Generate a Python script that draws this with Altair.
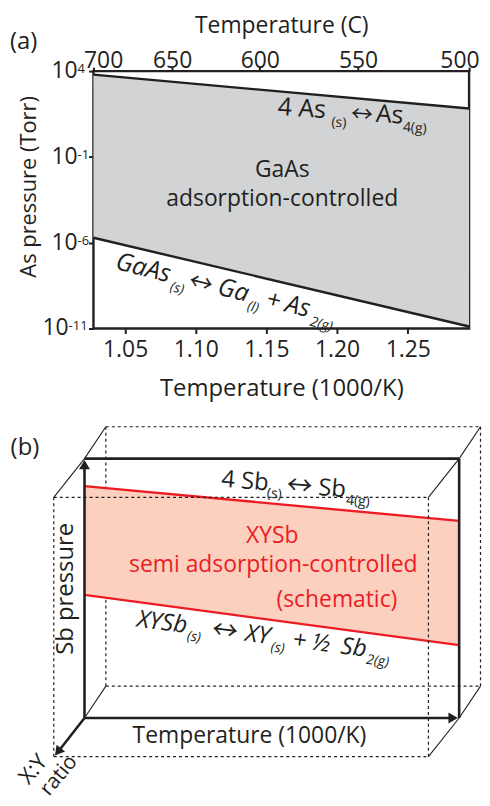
import altair as alt
import pandas as pd

FONT = "Open Sans"
ARROW_FONT = "Noto Sans CJK JP"
INK = "#231f20"
GRAY = "#d1d3d4"
RED = "#ed1c24"
PINK = "#fbd0bf"

# ---------------- panel (a) values ----------------
temp_c_ticks = [700, 650, 600, 550, 500]
inv_t_ticks = [1.05, 1.10, 1.15, 1.20, 1.25]
p_ticks = [1e4, 1e-1, 1e-6, 1e-11]
p_tick_exp = ["4", "-1", "-6", "-11"]
inv_t_ends = [1000.0 / (700 + 273.15), 1000.0 / (500 + 273.15)]
p_as4 = [6.2e3, 6.6e1]        # 4 As(s) <-> As4(g) boundary (Torr)
p_as2 = [1.95e-6, 1.3e-11]    # GaAs(s) <-> Ga(l) + As2(g) boundary (Torr)

# ---------------- panel (b) schematic values (unit box) ----------------
red_u = [0.0, 1.0]
red_upper_v = [0.894, 0.760]
red_lower_v = [0.475, 0.281]
back_du, back_dv = 0.057, 0.123
front_du, front_dv = -0.082, -0.149

WA, HA = 378, 259
WB, HB = 378, 430

xs = alt.Scale(domain=inv_t_ends, nice=False, zero=False)
ys = alt.Scale(type="log", domain=[1e-11, 1e4], nice=False)
top_vals = [1000.0 / (t + 273.15) for t in temp_c_ticks]

df_a = pd.DataFrame({"invT": inv_t_ends, "as4": p_as4, "as2": p_as2})
df_pt = pd.DataFrame({"p": p_ticks, "exp": p_tick_exp})

bottom_axis = alt.Axis(orient="bottom", values=inv_t_ticks, format=".2f",
                       title="Temperature (1000/K)", tickSize=5, labelPadding=5,
                       titleY=60, titleBaseline="middle", domain=False, grid=False,
                       labelFontSize=23, titleFontSize=24)
left_axis = alt.Axis(orient="left", values=p_ticks, labels=False, tickSize=5,
                     title="As pressure (Torr)", titleAngle=270, titleX=-65, titleY=116,
                     titleBaseline="middle", titleAlign="center", domain=False, grid=False,
                     titleFontSize=22)
top_axis = alt.Axis(orient="top", values=top_vals,
                    labelExpr="format(1000 / datum.value - 273.15, '.0f')",
                    title="Temperature (C)", tickSize=4, labelPadding=0,
                    labelBaseline="alphabetic", labelFlush=True, labelFlushOffset=10,
                    titleY=-46, titleBaseline="middle", domain=False, grid=False,
                    labelFontSize=23, titleFontSize=23)


def text_at(x, y, text, xscale, yscale, size=23, color=INK, angle=0, align="center",
            baseline="middle", style="normal", dx=0, dy=0, font=FONT):
    df = pd.DataFrame({"x": [x], "y": [y]})
    return alt.Chart(df).mark_text(
        text=text, font=font, fontSize=size, color=color, angle=angle, align=align,
        baseline=baseline, fontStyle=style, dx=dx, dy=dy
    ).encode(x=alt.X("x:Q", scale=xscale, axis=None), y=alt.Y("y:Q", scale=yscale, axis=None))


def formula(x, y, parts, angle, xscale, yscale, size=24, sub_dy=7, color=INK, style="normal",
            arrow_size=22):
    out = []
    for txt, dx, kind in parts:
        if kind == "sub":
            out.append(text_at(x, y, txt, xscale, yscale, size=14, color=color, angle=angle,
                               align="left", baseline="alphabetic", style=style, dx=dx, dy=sub_dy))
        elif kind == "arrow":
            out.append(text_at(x, y, txt, xscale, yscale, size=arrow_size, color=color,
                               angle=angle, align="left", baseline="alphabetic", dx=dx, dy=1,
                               font=ARROW_FONT))
        else:
            out.append(text_at(x, y, txt, xscale, yscale, size=size, color=color, angle=angle,
                               align="left", baseline="alphabetic", style=style, dx=dx))
    return out


# ---------------- panel (a) ----------------
area = alt.Chart(df_a).mark_area(color=GRAY).encode(
    x=alt.X("invT:Q", scale=xs, axis=bottom_axis),
    y=alt.Y("as4:Q", scale=ys, axis=left_axis),
    y2="as2:Q",
)
line_as4 = alt.Chart(df_a).mark_line(color=INK, strokeWidth=2.4).encode(
    x=alt.X("invT:Q", scale=xs, axis=top_axis),
    y=alt.Y("as4:Q", scale=ys, axis=None),
)
line_as2 = alt.Chart(df_a).mark_line(color=INK, strokeWidth=2.4).encode(
    x=alt.X("invT:Q", scale=xs, axis=None),
    y=alt.Y("as2:Q", scale=ys, axis=None),
)


def ylabels(cond, xpix):
    base = alt.Chart(df_pt).transform_filter(cond)
    ten = base.mark_text(text="10", align="right", baseline="middle", font=FONT,
                         fontSize=23, color=INK).encode(
        x=alt.value(xpix), y=alt.Y("p:Q", scale=ys, axis=None))
    ex = base.mark_text(align="left", baseline="alphabetic", dy=2, font=FONT,
                        fontSize=13, color=INK).encode(
        x=alt.value(xpix), y=alt.Y("p:Q", scale=ys, axis=None), text="exp:N")
    return [ten, ex]


label_a = alt.Chart(pd.DataFrame({"t": ["(a)"]})).mark_text(
    align="left", baseline="middle", font=FONT, fontSize=24, color=INK
).encode(x=alt.value(-84), y=alt.value(-29), text="t:N")

layers_a = [area, line_as4, line_as2]
layers_a += ylabels("length(datum.exp) <= 2", -16)
layers_a += ylabels("length(datum.exp) > 2", -25)
layers_a += [
    label_a,
    text_at(1.1612, 10 ** -1.79, "GaAs", xs, ys, size=23),
    text_at(1.1612, 10 ** -3.47, "adsorption-controlled", xs, ys, size=23),
]
layers_a += formula(1.1577, 28.3, [("4 As", 0, "main"), ("(s)", 55, "sub"), ("↔", 74, "arrow"),
                                   ("As", 99, "main"), ("4(g)", 127, "sub")], 4, xs, ys,
                    size=25, sub_dy=8, arrow_size=22)
layers_a += formula(1.0424, 3.0e-8, [("GaAs", 0, "main"), ("(s)", 59, "sub"), ("↔", 76, "arrow"),
                                     ("Ga", 106, "main"), ("(l)", 139, "sub"), ("+", 156, "main"),
                                     ("As", 176, "main"), ("2(g)", 204, "sub")], 14, xs, ys,
                    size=25, sub_dy=8, style="italic", arrow_size=24)

panel_a = alt.layer(*layers_a).resolve_axis(x="independent", y="independent").properties(
    width=WA, height=HA, view=alt.ViewBackground(stroke=INK, strokeWidth=2.4))

# ---------------- panel (b) ----------------
us = alt.Scale(domain=[0.0239, 1.0265], nice=False, zero=False)
vs = alt.Scale(domain=[-0.2299, 1.4176], nice=False, zero=False)

bu0, bu1, bv0, bv1 = back_du, 1 + back_du, back_dv, 1 + back_dv
fu0, fu1, fv0, fv1 = front_du, 1 + front_du, front_dv, 1 + front_dv


def rect_edges(u0, u1, v0, v1):
    return [(u0, v1, u1, v1), (u0, v0, u1, v0), (u0, v0, u0, v1), (u1, v0, u1, v1)]


def seg_df(segs):
    return pd.DataFrame(segs, columns=["u", "v", "u2", "v2"])


def rules(segs, **kw):
    return alt.Chart(seg_df(segs)).mark_rule(color=INK, **kw).encode(
        x=alt.X("u:Q", scale=us, axis=None), y=alt.Y("v:Q", scale=vs, axis=None),
        x2="u2:Q", y2="v2:Q")


back_box = rules(rect_edges(bu0, bu1, bv0, bv1), strokeDash=[3, 3], strokeWidth=1.2)
front_box = rules(rect_edges(fu0, fu1, fv0, fv1), strokeDash=[3, 3], strokeWidth=1.2)
diagonals = rules([(fu0, fv1, 0, 1), (0, 1, bu0, bv1),
                   (fu1, fv1, 1, 1), (1, 1, bu1, bv1),
                   (fu1, fv0, 1, 0), (1, 0, bu1, bv0),
                   (0, 0, bu0, bv0)], strokeWidth=1.1)
thick = rules([(0, 1, 1, 1), (1, 0, 1, 1), (0, 0, 0, 0.975), (0, 0, 0.982, 0),
               (0, 0, fu0 + 0.012, fv0 + 0.02)], strokeWidth=2.6)

heads = alt.Chart(pd.DataFrame({"u": [0.0, 0.984, fu0 + 0.011], "v": [0.977, 0.0, fv0 + 0.019],
                                "ang": [0, 90, 218.5]})).mark_point(
    shape="triangle-up", filled=True, size=120, color=INK, opacity=1).encode(
    x=alt.X("u:Q", scale=us, axis=None), y=alt.Y("v:Q", scale=vs, axis=None),
    angle=alt.Angle("ang:Q", scale=None))

df_red = pd.DataFrame({"u": red_u, "up": red_upper_v, "lo": red_lower_v})
red_fill = alt.Chart(df_red).mark_area(color=PINK).encode(
    x=alt.X("u:Q", scale=us, axis=None), y=alt.Y("up:Q", scale=vs, axis=None), y2="lo:Q")
red_up = alt.Chart(df_red).mark_line(color=RED, strokeWidth=2.4).encode(
    x=alt.X("u:Q", scale=us, axis=None), y=alt.Y("up:Q", scale=vs, axis=None))
red_lo = alt.Chart(df_red).mark_line(color=RED, strokeWidth=2.4).encode(
    x=alt.X("u:Q", scale=us, axis=None), y=alt.Y("lo:Q", scale=vs, axis=None))

layers_b = [back_box, red_fill, red_up, red_lo, front_box, diagonals, thick, heads]
layers_b += [
    text_at(0.5013, 0.7011, "XYSb", us, vs, size=23, color=RED),
    text_at(0.504, 0.590, "semi adsorption-controlled", us, vs, size=23, color=RED),
    text_at(0.6737, 0.456, "(schematic)", us, vs, size=23, color=RED),
    text_at(-0.0504, 0.498, "Sb pressure", us, vs, size=24, angle=270),
    text_at(0.4403, -0.069, "Temperature (1000/K)", us, vs, size=23),
    text_at(-0.159, 1.042, "(b)", us, vs, size=24),
    text_at(-0.137, -0.198, "X:Y", us, vs, size=22, angle=310),
    text_at(-0.068, -0.222, "ratio", us, vs, size=21, angle=310),
]
layers_b += formula(0.3634, 0.8927, [("4 Sb", 0, "main"), ("(s)", 47, "sub"), ("↔", 66, "arrow"),
                                     ("Sb", 98, "main"), ("4(g)", 127, "sub")], 5, us, vs,
                    arrow_size=26)
layers_b += formula(0.1379, 0.3525, [("XYSb", 0, "main"), ("(s)", 52, "sub"), ("↔", 76, "arrow"),
                                     ("XY", 110, "main"), ("(s)", 137, "sub"), ("+", 158, "main"),
                                     ("½", 177, "main"), ("Sb", 207, "main"), ("2(g)", 234, "sub")],
                    7.5, us, vs, style="italic", arrow_size=26)

panel_b = alt.layer(*layers_b).properties(
    width=WB, height=HB, view=alt.ViewBackground(strokeWidth=0))

chart = alt.vconcat(panel_a, panel_b, spacing=22, bounds="flush").properties(
    padding={"left": 0, "top": 2, "right": 0, "bottom": 0}
).configure_axis(
    labelFont=FONT, titleFont=FONT, labelColor=INK, titleColor=INK, tickColor=INK,
    tickWidth=2, titleFontWeight="normal"
)

chart.save("out.html", embed_options={"renderer": "svg", "actions": False})
